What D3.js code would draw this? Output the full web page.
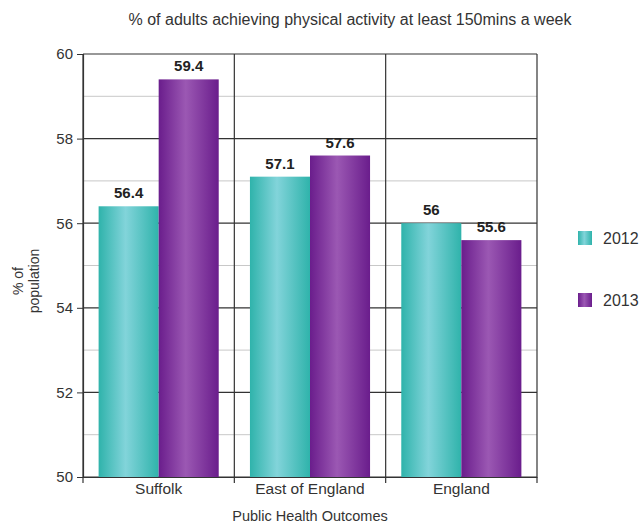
<!DOCTYPE html>
<html>
<head>
<meta charset="utf-8">
<script src="https://cdn.jsdelivr.net/npm/d3@7"></script>
<style>
  body { margin: 0; background: #fff; }
  text { font-family: "Liberation Sans", Arial, sans-serif; }
</style>
</head>
<body>
<script>
// data
var categories = ['Suffolk', 'East of England', 'England'];
var years = ['2012', '2013'];
var values2012 = [56.4, 57.1, 56];
var values2013 = [59.4, 57.6, 55.6];
var yTicks = [50, 52, 54, 56, 58, 60];
var minorTicks = [51, 53, 55, 57, 59];

var rows = categories.map(function(c, i) {
  return { cat: c, vals: [ { year: '2012', v: values2012[i] }, { year: '2013', v: values2013[i] } ] };
});

var svg = d3.select('body')
            .append('svg')
            .attr('width', 642)
            .attr('height', 523);

// plot box (window.top is reserved, so own names)
var plotL = 83, plotR = 537, plotT = 54, plotB = 477;

var x0 = d3.scaleBand().domain(categories).range([plotL, plotR]).padding(0);
var x1 = d3.scaleBand().domain(years).range([0, x0.bandwidth()]).paddingInner(0).paddingOuter(0.26);
var y = d3.scaleLinear().domain([50, 60]).range([plotB, plotT]);

// cylinder look gradients
var defs = svg.append('defs');
function grad(id, edge, mid) {
  var g = defs.append('linearGradient').attr('id', id).attr('x1', '0%').attr('x2', '100%');
  g.append('stop').attr('offset', '0%').attr('stop-color', edge);
  g.append('stop').attr('offset', '45%').attr('stop-color', mid);
  g.append('stop').attr('offset', '100%').attr('stop-color', edge);
}
grad('g2012', '#2fb3ab', '#82d4da');
grad('g2013', '#6a1d8c', '#9b58b3');
var fills = { '2012': 'url(#g2012)', '2013': 'url(#g2013)' };

// minor gridlines
svg.append('g').selectAll('line').data(minorTicks).enter().append('line')
   .attr('x1', plotL).attr('x2', plotR)
   .attr('y1', function(d) { return y(d); }).attr('y2', function(d) { return y(d); })
   .attr('stroke', '#c8c8c8').attr('stroke-width', 1);

// major gridlines
svg.append('g').selectAll('line').data(yTicks).enter().append('line')
   .attr('x1', plotL).attr('x2', plotR)
   .attr('y1', function(d) { return y(d); }).attr('y2', function(d) { return y(d); })
   .attr('stroke', '#333').attr('stroke-width', 1.2);

// vertical dividers between categories
var dividers = categories.map(function(c) { return x0(c); }).concat([plotR]);
svg.append('g').selectAll('line').data(dividers).enter().append('line')
   .attr('x1', function(d) { return d; }).attr('x2', function(d) { return d; })
   .attr('y1', plotT).attr('y2', plotB + 6)
   .attr('stroke', '#333').attr('stroke-width', 1.2);

// bars
var groups = svg.append('g').selectAll('g').data(rows).enter().append('g')
   .attr('transform', function(d) { return 'translate(' + x0(d.cat) + ',0)'; });

groups.selectAll('rect').data(function(d) { return d.vals; }).enter().append('rect')
   .attr('x', function(d) { return x1(d.year); })
   .attr('width', x1.bandwidth())
   .attr('y', function(d) { return y(d.v); })
   .attr('height', function(d) { return plotB - y(d.v); })
   .attr('fill', function(d) { return fills[d.year]; });

groups.selectAll('text').data(function(d) { return d.vals; }).enter().append('text')
   .attr('x', function(d) { return x1(d.year) + x1.bandwidth() / 2; })
   .attr('y', function(d) { return y(d.v) - 8; })
   .attr('text-anchor', 'middle')
   .style('font-size', '15px').style('font-weight', 'bold').attr('fill', '#222')
   .text(function(d) { return d.v; });

// y axis
var yAxis = svg.append('g').attr('transform', 'translate(' + plotL + ',0)')
   .call(d3.axisLeft(y).tickValues(yTicks).tickSize(6).tickPadding(4));
yAxis.select('.domain').attr('stroke', '#333').attr('stroke-width', 1.2);
yAxis.selectAll('.tick line').attr('stroke', '#333');
yAxis.selectAll('.tick text').style('font-size', '15px').attr('fill', '#333')
   .style('font-family', '"Liberation Sans", Arial, sans-serif');

// x axis
var xAxis = svg.append('g').attr('transform', 'translate(0,' + plotB + ')')
   .call(d3.axisBottom(x0).tickSize(0).tickPadding(6));
xAxis.select('.domain').attr('stroke', '#333').attr('stroke-width', 1.2);
xAxis.selectAll('.tick text').style('font-size', '15.5px').attr('fill', '#333')
   .style('font-family', '"Liberation Sans", Arial, sans-serif');

// titles
svg.append('text').attr('x', 350).attr('y', 25).attr('text-anchor', 'middle')
   .style('font-size', '16px').attr('fill', '#333')
   .text('% of adults achieving physical activity at least 150mins a week');

svg.append('text').attr('x', 310).attr('y', 521).attr('text-anchor', 'middle')
   .style('font-size', '14.5px').attr('fill', '#333')
   .text('Public Health Outcomes');

var yt = svg.append('text').attr('transform', 'translate(23,281) rotate(-90)')
   .attr('text-anchor', 'middle').style('font-size', '14px').attr('fill', '#333');
yt.append('tspan').attr('x', 0).attr('dy', 0).text('% of');
yt.append('tspan').attr('x', 0).attr('dy', 16).text('population');

// legend
var legend = svg.append('g').selectAll('g').data(years).enter().append('g')
   .attr('transform', function(d, i) { return 'translate(578,' + (231 + i * 62) + ')'; });
legend.append('rect').attr('width', 14).attr('height', 14)
   .attr('fill', function(d) { return fills[d]; });
legend.append('text').attr('x', 25).attr('y', 13)
   .style('font-size', '16px').attr('fill', '#333')
   .text(function(d) { return d; });
</script>
</body>
</html>
